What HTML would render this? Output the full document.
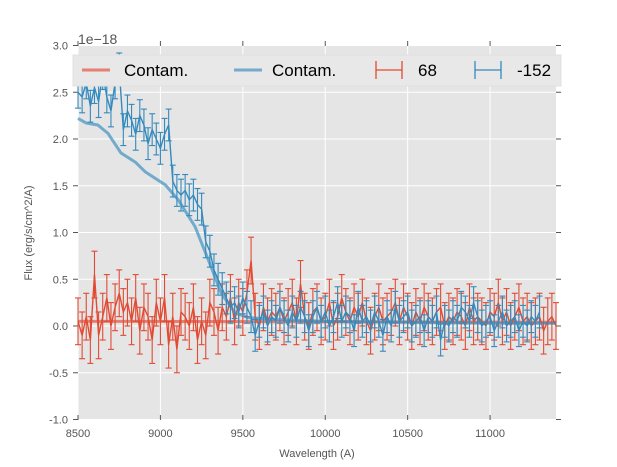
<!DOCTYPE html>
<html><head><meta charset="utf-8"><style>
body{margin:0;background:#fff;}
svg{display:block;font-family:"Liberation Sans","DejaVu Sans",sans-serif;}
</style></head><body>
<svg id="chart" width="617" height="467">
<rect x="78" y="46" width="478" height="374" fill="#e5e5e5"/>
<g id="grid"></g>
<g id="ticks"></g>
<g id="series"></g>
<text x="78" y="44" font-size="14" fill="#555">1e−18</text>
<text x="317" y="457" font-size="11" fill="#555" text-anchor="middle">Wavelength (A)</text>
<text transform="translate(32,233) rotate(-90)" font-size="11" fill="#555" text-anchor="middle">Flux (erg/s/cm^2/A)</text>
<g>
<rect x="73" y="55" width="488" height="31" fill="#e8e8e8" stroke="#e0e0e0"/>
<g>
<line x1="82" y1="70" x2="110" y2="70" stroke="#E24A33" stroke-opacity="0.65" stroke-width="3"/>
<text x="124" y="76" font-size="17" fill="#000">Contam.</text></g>
<g>
<line x1="234" y1="70" x2="262" y2="70" stroke="#348ABD" stroke-opacity="0.65" stroke-width="3"/>
<text x="272" y="76" font-size="17" fill="#000">Contam.</text></g>
<g stroke="#E24A33" stroke-width="1.3">
<line x1="376" y1="70" x2="402" y2="70"/><line x1="376" y1="61" x2="376" y2="79"/><line x1="402" y1="61" x2="402" y2="79"/>
<text x="418" y="76" font-size="17" fill="#000" stroke="none">68</text></g>
<g stroke="#348ABD" stroke-width="1.3">
<line x1="475" y1="70" x2="501" y2="70"/><line x1="475" y1="61" x2="475" y2="79"/><line x1="501" y1="61" x2="501" y2="79"/>
<text x="517" y="76" font-size="17" fill="#000" stroke="none">-152</text></g>
</g>
</svg>
<script>
const xTicks=[8500,9000,9500,10000,10500,11000];
const yTicks=[-1.0,-0.5,0.0,0.5,1.0,1.5,2.0,2.5,3.0];
const wlStart=8500, wlStep=25;
const blueData=[2.5,2.45,2.6,2.35,2.55,2.4,2.7,2.45,2.3,2.6,2.75,
2.1,2.3,2.2,2.05,2.25,2.15,1.95,2.1,2.0,1.9,2.05,2.15,
1.55,1.45,1.4,1.45,1.35,1.4,1.3,1.25,0.9,0.8,0.6,0.5,0.4,0.3,0.2,0.25,0.15,0.3,0.2,0.1,-0.1,0.05,
0.15,0.0,0.1,0.05,0.2,0.1,0.0,0.15,0.05,0.2,0.1,-0.05,0.1,0.2,0.05,0.15,0.0,0.1,0.25,0.05,0.15,0.1,-0.05,0.2,0.05,0.1,0.0,0.15,0.05,-0.1,0.1,0.0,0.2,0.05,0.1,0.15,0.0,0.05,0.1,-0.05,0.1,0.05,0.15,-0.15,0.05,0.0,0.1,0.05,0.2,0.15,0.05,0.25,0.1,0.0,0.05,0.1,-0.05,0.05,0.15,0.0,0.05,0.1,-0.05,0.05,0.0,0.1,0.05,0.15];
const redData=[0.05,-0.1,0.1,-0.15,0.55,-0.1,0.1,0.3,0.0,0.2,0.35,0.15,0.25,0.05,0.3,-0.05,0.2,0.1,-0.15,0.25,0.05,0.3,-0.2,0.1,-0.25,0.15,0.1,0.0,0.2,-0.15,0.05,-0.1,0.25,0.15,-0.05,0.2,0.1,0.3,0.05,0.25,0.15,0.35,0.7,0.1,0.0,0.2,0.05,0.15,0.1,0.2,0.05,0.15,0.25,0.05,0.45,0.1,0.0,0.15,0.2,0.05,0.1,0.25,0.0,0.1,0.3,0.15,0.05,0.2,0.1,0.25,0.05,-0.05,0.1,0.2,0.05,0.1,0.15,0.25,0.05,0.2,0.1,0.0,0.15,0.05,0.2,0.1,0.05,0.15,0.2,0.0,0.1,0.05,0.15,0.1,0.0,0.2,0.05,0.1,0.05,0.0,0.15,0.1,0.25,0.05,0.15,0.0,0.1,0.2,0.05,0.1,0.0,0.05,0.1,-0.05,0.05,0.1,0.0];
const blueErr=0.17, redErr=0.25;
const contamBlueWl=[8500,8550,8620,8682,8761,8850,8907,9029,9108,9211,9308,9369,9453,9533,9700,10000,10500,11000,11400];
const contamBlue=[2.22,2.17,2.15,2.06,1.85,1.75,1.65,1.51,1.35,1.06,0.63,0.35,0.14,0.09,0.07,0.05,0.04,0.03,0.03];
const contamRedWl=[8500,11400];
const contamRed=[0.05,0.04];

const X=v=>78+(v-8500)*478/2900;
const Y=v=>326-v*93.5;
const NS='http://www.w3.org/2000/svg';
function mk(parent,tag,attrs){const e=document.createElementNS(NS,tag);for(const k in attrs)e.setAttribute(k,attrs[k]);parent.appendChild(e);return e;}
const grid=document.getElementById('grid'),ticks=document.getElementById('ticks'),ser=document.getElementById('series');
xTicks.forEach(t=>{
 const l=mk(grid,'line',{x1:X(t),x2:X(t),y1:46,y2:420,stroke:'#fff','stroke-width':1});
 
 
 mk(ticks,'line',{x1:X(t),x2:X(t),y1:420,y2:415,stroke:'#555'});
 mk(ticks,'line',{x1:X(t),x2:X(t),y1:46,y2:41,stroke:'#555'});
 const tx=mk(ticks,'text',{x:X(t),y:437,'font-size':11,fill:'#555','text-anchor':'middle'});
 tx.textContent=t;
 
 
});
yTicks.forEach(t=>{
 const l=mk(grid,'line',{x1:78,x2:556,y1:Y(t),y2:Y(t),stroke:'#fff','stroke-width':1});
 
 
 mk(ticks,'line',{x1:73,x2:78,y1:Y(t),y2:Y(t),stroke:'#555'});
 mk(ticks,'line',{x1:556,x2:561,y1:Y(t),y2:Y(t),stroke:'#555'});
 const tx=mk(ticks,'text',{x:68,y:Y(t)+4,'font-size':11,fill:'#555','text-anchor':'end'});
 tx.textContent=t.toFixed(1);
 
 
});
function contam(wl,vals,color,name){
 const p=mk(ser,'polyline',{points:wl.map((w,i)=>X(w)+','+Y(vals[i])).join(' '),fill:'none',stroke:color,'stroke-opacity':0.65,'stroke-width':3});
 
 
}
function errSeries(vals,err,color,name){
 const g=mk(ser,'g',{stroke:color,'stroke-width':1.1,fill:'none'});
 
 
 const pts=[];
 vals.forEach((v,i)=>{
  const x=X(wlStart+i*wlStep);if(x>556.5)return;
  pts.push(x+','+Y(v));
  mk(g,'line',{x1:x,x2:x,y1:Y(v+err),y2:Y(v-err)});
  mk(g,'line',{x1:x-3,x2:x+3,y1:Y(v+err),y2:Y(v+err)});
  mk(g,'line',{x1:x-3,x2:x+3,y1:Y(v-err),y2:Y(v-err)});
 });
 mk(g,'polyline',{points:pts.join(' '),'stroke-width':1.4});
}
contam(contamRedWl,contamRed,'#E24A33','contam-line-red');
errSeries(redData,redErr,'#E24A33','series-68');
errSeries(blueData,blueErr,'#348ABD','series-minus152');
contam(contamBlueWl,contamBlue,'#348ABD','contam-line-blue');
</script>
</body></html>
